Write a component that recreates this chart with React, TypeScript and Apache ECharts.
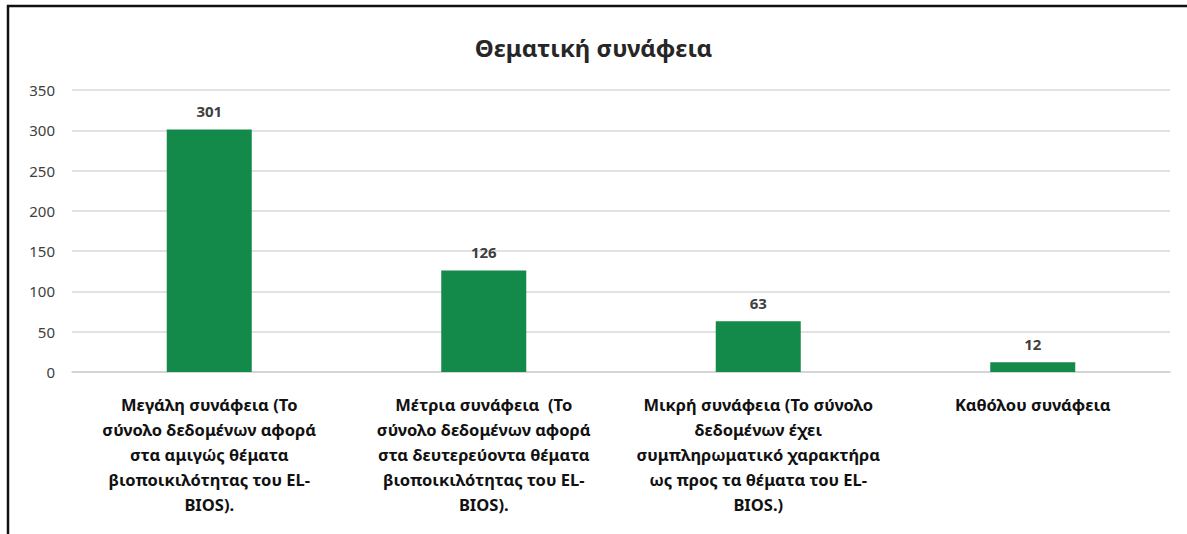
import React, { useEffect, useRef } from "react";
import * as echarts from "echarts";

const title = "Θεματική συνάφεια";
const categories = [
  "Μεγάλη συνάφεια (Το\nσύνολο δεδομένων αφορά\nστα αμιγώς θέματα\nβιοποικιλότητας του EL-\nBIOS).",
  "Μέτρια συνάφεια  (Το\nσύνολο δεδομένων αφορά\nστα δευτερεύοντα θέματα\nβιοποικιλότητας του EL-\nBIOS).",
  "Μικρή συνάφεια (Το σύνολο\nδεδομένων έχει\nσυμπληρωματικό χαρακτήρα\nως προς τα θέματα του EL-\nBIOS.)",
  "Καθόλου συνάφεια",
];
const values = [301, 126, 63, 12];
const yMin = 0;
const yMax = 350;
const yInterval = 50;

const FONT = "'Noto Sans', 'Open Sans', sans-serif";

export default function App() {
  const ref = useRef<HTMLDivElement>(null);
  useEffect(() => {
    document.body.style.margin = "0";
    const chart = echarts.init(ref.current!, null, { renderer: "svg" });
    chart.setOption({
      animation: false,
      backgroundColor: "#ffffff",
      title: {
        text: title,
        left: "center",
        top: 30,
        textStyle: { fontFamily: FONT, fontSize: 24, fontWeight: "bold", color: "#262626" },
      },
      graphic: [
        {
          type: "rect",
          shape: { x: 8, y: 6, width: 1300, height: 700 },
          style: { fill: "none", stroke: "#111111", lineWidth: 2.5 },
          silent: true,
        },
      ],
      grid: { left: 72, right: 17, top: 90, bottom: 162 },
      xAxis: {
        type: "category",
        data: categories,
        axisLine: { show: true, lineStyle: { color: "#d0d0d0", width: 1.5 } },
        axisTick: { show: false },
        axisLabel: {
          interval: 0,
          margin: 20,
          fontFamily: FONT,
          fontSize: 16.5,
          fontWeight: "bold",
          color: "#111111",
          lineHeight: 25,
          align: "center",
        },
      },
      yAxis: {
        type: "value",
        min: yMin,
        max: yMax,
        interval: yInterval,
        axisLine: { show: false },
        axisTick: { show: false },
        splitLine: { lineStyle: { color: "#d9d9d9", width: 1.5 } },
        axisLabel: {
          margin: 17,
          fontFamily: FONT,
          fontSize: 15,
          color: "#404040",
        },
      },
      series: [
        {
          type: "bar",
          data: values,
          barWidth: 85,
          itemStyle: { color: "#13894a" },
          label: {
            show: true,
            position: "top",
            distance: 11,
            fontFamily: FONT,
            fontSize: 15,
            fontWeight: "bold",
            color: "#404040",
          },
        },
      ],
    });
    return () => chart.dispose();
  }, []);
  return <div ref={ref} style={{ width: 1187, height: 534 }} />;
}
